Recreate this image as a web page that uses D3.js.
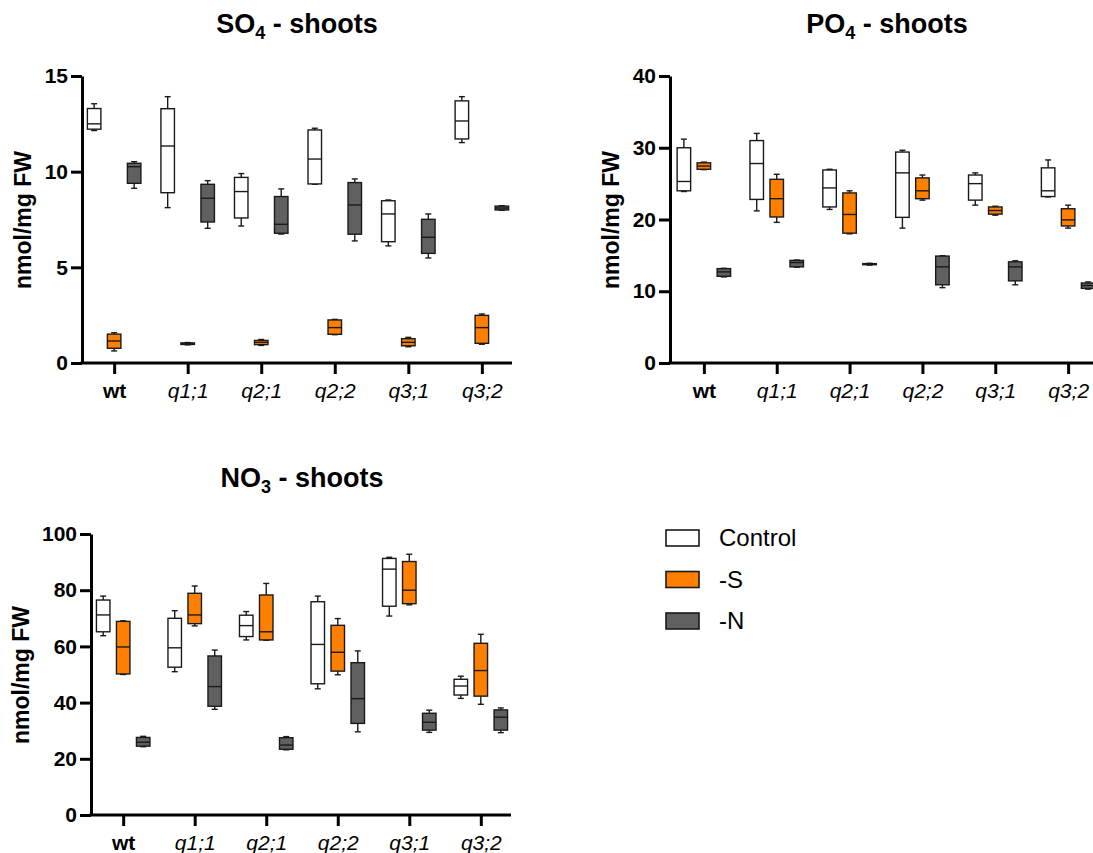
<!DOCTYPE html>
<html>
<head>
<meta charset="utf-8">
<script src="https://cdn.jsdelivr.net/npm/d3@7"></script>
<style>
  html, body { margin: 0; padding: 0; background: #fff; }
  svg { display: block; }
  text { font-family: "Liberation Sans", Arial, Helvetica, sans-serif; }
</style>
</head>
<body>
<svg id="chart" width="1093" height="853"></svg>
<script>
// Genotypes on the x axis and treatments drawn as side-by-side boxes
const genotypes = ["wt", "q1;1", "q2;1", "q2;2", "q3;1", "q3;2"];
const treatments = ["Control", "-S", "-N"];
const treatmentColors = ["#ffffff", "#ff7f00", "#606060"];

// Box statistics per genotype: [min, q1, median, q3, max]  (nmol/mg FW)
const so4Control = [[12.15,12.22,12.5,13.3,13.55],[8.12,8.9,11.34,13.29,13.92],[7.16,7.58,8.96,9.7,9.9],[9.34,9.36,10.66,12.18,12.27],[6.12,6.34,7.79,8.48,8.52],[11.52,11.71,12.65,13.7,13.92]];
const so4MinusS  = [[0.63,0.77,1.15,1.51,1.58],[0.95,0.97,1.01,1.05,1.07],[0.92,0.96,1.08,1.18,1.23],[1.48,1.5,1.85,2.25,2.28],[0.85,0.9,1.08,1.27,1.34],[0.98,1.03,1.85,2.49,2.56]];
const so4MinusN  = [[9.13,9.39,10.26,10.44,10.52],[7.04,7.37,8.61,9.34,9.53],[6.74,6.78,7.25,8.7,9.1],[6.38,6.73,8.26,9.43,9.62],[5.49,5.73,6.57,7.51,7.79],[7.98,8.0,8.1,8.2,8.22]];

const po4Control = [[23.9,24.0,25.3,30.0,31.2],[21.2,22.8,27.8,31.0,32.0],[21.4,21.75,24.4,26.9,27.0],[18.8,20.3,26.5,29.4,29.65],[22.0,22.7,25.0,26.2,26.5],[23.15,23.2,24.0,27.2,28.3]];
const po4MinusS  = [[26.95,27.0,27.45,27.9,28.0],[19.6,20.35,22.9,25.6,26.3],[18.0,18.1,20.7,23.7,24.0],[22.7,22.9,24.0,25.8,26.2],[20.6,20.75,21.25,21.75,21.85],[18.8,19.1,19.95,21.5,22.0]];
const po4MinusN  = [[12.0,12.08,12.7,13.15,13.2],[13.35,13.4,14.0,14.3,14.35],[13.65,13.7,13.78,13.85,13.9],[10.5,10.9,13.4,14.9,14.95],[10.9,11.45,13.4,14.1,14.25],[10.3,10.4,10.8,11.15,11.3]];

const no3Control = [[63.8,65.2,71.2,76.5,77.9],[51.0,52.6,59.5,70.0,72.7],[62.3,63.5,67.4,71.1,72.4],[44.9,46.7,60.7,75.9,77.9],[70.8,74.3,87.5,91.3,91.7],[41.5,42.7,45.9,48.3,49.4]];
const no3MinusS  = [[50.0,50.2,59.8,68.9,69.1],[67.3,68.1,71.2,78.9,81.5],[62.2,62.3,65.2,78.3,82.4],[49.9,51.2,57.9,67.5,69.9],[74.8,75.2,80.0,90.2,92.8],[39.4,42.3,51.4,61.1,64.3]];
const no3MinusN  = [[24.3,24.5,25.9,27.6,28.0],[37.6,38.7,45.7,56.6,58.7],[23.2,23.4,24.9,27.5,27.9],[29.6,32.6,41.4,54.2,58.4],[29.4,30.2,33.0,36.2,37.3],[29.3,30.2,34.8,37.4,38.1]];

// Y tick values
const so4Ticks = [0, 5, 10, 15];
const po4Ticks = [0, 10, 20, 30, 40];
const no3Ticks = [0, 20, 40, 60, 80, 100];

const svg = d3.select("#chart");

const panels = [
  { ion: "SO", sub: "4", series: [so4Control, so4MinusS, so4MinusN], ticks: so4Ticks, yMax: 15,
    x0: 82, x1: 514, yTop: 76, yBottom: 363, pad: 0.437, titleX: 297, titleY: 33, labelX: 31, labelY: 220 },
  { ion: "PO", sub: "4", series: [po4Control, po4MinusS, po4MinusN], ticks: po4Ticks, yMax: 40,
    x0: 670, x1: 1102, yTop: 76, yBottom: 363, pad: 0.465, titleX: 887, titleY: 33, labelX: 619, labelY: 220 },
  { ion: "NO", sub: "3", series: [no3Control, no3MinusS, no3MinusN], ticks: no3Ticks, yMax: 100,
    x0: 91, x1: 513, yTop: 534, yBottom: 815, pad: 0.45, titleX: 302, titleY: 487, labelX: 29, labelY: 675 }
];

const boxWidth = 13.5;
const capWidth = 6;
const offsets = [-20, 0, 20];

panels.forEach(p => {
  const g = svg.append("g");
  const x = d3.scalePoint().domain(genotypes).range([p.x0, p.x1]).padding(p.pad);
  const y = d3.scaleLinear().domain([0, p.yMax]).range([p.yBottom, p.yTop]);

  // Boxes
  p.series.forEach((stats, si) => {
    stats.forEach((s, gi) => {
      const [mn, q1, med, q3, mx] = s;
      const cx = x(genotypes[gi]) + offsets[si];
      const bg = g.append("g").attr("stroke", "#1a1a1a").attr("stroke-width", 1.4).attr("fill", "none");
      // whiskers
      bg.append("line").attr("x1", cx).attr("x2", cx).attr("y1", y(mx)).attr("y2", y(q3));
      bg.append("line").attr("x1", cx).attr("x2", cx).attr("y1", y(q1)).attr("y2", y(mn));
      bg.append("line").attr("x1", cx - capWidth / 2).attr("x2", cx + capWidth / 2).attr("y1", y(mx)).attr("y2", y(mx));
      bg.append("line").attr("x1", cx - capWidth / 2).attr("x2", cx + capWidth / 2).attr("y1", y(mn)).attr("y2", y(mn));
      // box
      bg.append("rect")
        .attr("x", cx - boxWidth / 2).attr("width", boxWidth)
        .attr("y", y(q3)).attr("height", Math.max(y(q1) - y(q3), 1))
        .attr("fill", treatmentColors[si]);
      // median
      bg.append("line").attr("x1", cx - boxWidth / 2).attr("x2", cx + boxWidth / 2).attr("y1", y(med)).attr("y2", y(med));
    });
  });

  // Y axis
  const yAxis = g.append("g").attr("transform", `translate(${p.x0},0)`)
    .call(d3.axisLeft(y).tickValues(p.ticks).tickSize(11).tickSizeOuter(0).tickPadding(3));
  yAxis.select(".domain").attr("stroke", "#000").attr("stroke-width", 3);
  yAxis.selectAll(".tick line").attr("stroke", "#000").attr("stroke-width", 3);
  yAxis.selectAll(".tick text").attr("font-size", 21).attr("font-weight", "bold").attr("fill", "#000")
    .attr("font-family", "'Liberation Sans', Arial, sans-serif");

  // X axis
  const xAxis = g.append("g").attr("transform", `translate(0,${p.yBottom})`)
    .call(d3.axisBottom(x).tickSize(11).tickSizeOuter(0).tickPadding(9));
  xAxis.select(".domain").attr("stroke", "#000").attr("stroke-width", 3)
    .attr("d", `M${p.x0 - 1.5},0H${p.x1 - 2}`);
  xAxis.selectAll(".tick line").attr("stroke", "#000").attr("stroke-width", 3);
  xAxis.selectAll(".tick text").attr("font-size", 21).attr("fill", "#000")
    .attr("font-family", "'Liberation Sans', Arial, sans-serif")
    .attr("font-weight", d => d === "wt" ? "bold" : "normal")
    .attr("font-style", d => d === "wt" ? "normal" : "italic");

  // Y axis label
  g.append("text")
    .attr("transform", `translate(${p.labelX},${p.labelY}) rotate(-90)`)
    .attr("text-anchor", "middle").attr("font-size", 23).attr("font-weight", "bold")
    .text("nmol/mg FW");

  // Title with subscript
  const t = g.append("text").attr("x", p.titleX).attr("y", p.titleY)
    .attr("text-anchor", "middle").attr("font-size", 27).attr("font-weight", "bold");
  t.append("tspan").text(p.ion);
  t.append("tspan").attr("font-size", 18).attr("dy", 6).text(p.sub);
  t.append("tspan").attr("dy", -6).text(" - shoots");
});

// Legend
const legend = svg.append("g").attr("transform", "translate(666,530)");
treatments.forEach((name, i) => {
  const row = legend.append("g").attr("transform", `translate(0,${i * 41.5})`);
  row.append("rect").attr("x", 0).attr("y", 0).attr("width", 33).attr("height", 16)
    .attr("fill", treatmentColors[i]).attr("stroke", "#1a1a1a").attr("stroke-width", 1.6);
  row.append("text").attr("x", 53).attr("y", 16).attr("font-size", 24).attr("fill", "#000").text(name);
});
</script>
</body>
</html>
